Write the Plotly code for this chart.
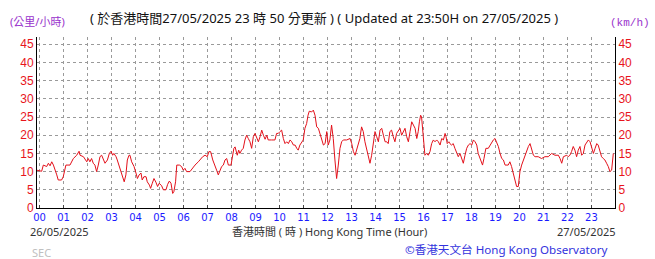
import plotly.graph_objects as go

# ---------------- data ----------------
hours_a = [-0.12, 0.09, 0.16, 0.30, 0.37, 0.44, 0.51, 0.58, 0.72, 0.78,
           0.92, 0.99, 1.10, 1.27, 1.41, 1.55, 1.65, 1.69, 1.83, 1.97,
           2.03, 2.10, 2.17, 2.24, 2.31, 2.38, 2.45, 2.52, 2.59, 2.66,
           2.73, 2.83, 2.91, 2.98, 3.05, 3.10, 3.19, 3.24, 3.33, 3.42,
           3.49, 3.53, 3.60, 3.66, 3.73, 3.77, 3.84, 3.94, 4.02, 4.08,
           4.15, 4.23, 4.28, 4.35, 4.44, 4.49, 4.58, 4.63, 4.70, 4.77,
           4.85, 4.92, 4.99, 5.09, 5.16, 5.27, 5.34, 5.41, 5.48, 5.55,
           5.60, 5.67, 5.72, 5.83, 5.92, 5.99, 6.06, 6.13, 6.27, 6.41,
           6.48, 6.62, 6.72, 6.80, 6.90, 6.99, 7.06, 7.13, 7.22, 7.28,
           7.38, 7.45, 7.52]
speed_a = [10.4, 10.1, 11.8, 11.4, 12.3, 11.6, 12.7, 11.8, 9.1, 7.7,
           7.7, 8.6, 11.8, 11.8, 13.6, 14.5, 15.6, 14.5, 14.1, 12.7,
           13.6, 12.7, 13.6, 12.3, 11.8, 10.0, 11.8, 14.1, 14.5, 13.2,
           12.3, 13.2, 15.0, 15.6, 14.5, 15.0, 14.1, 13.2, 11.4, 9.6,
           8.4, 7.2, 9.1, 13.2, 14.5, 14.5, 12.7, 11.4, 9.6, 8.1,
           9.1, 9.6, 7.7, 8.6, 8.6, 7.2, 6.3, 5.4, 6.8, 8.1,
           7.1, 5.9, 6.8, 6.1, 5.0, 5.0, 6.5, 7.4, 6.8, 4.0,
           4.5, 7.2, 11.8, 11.8, 11.4, 10.4, 10.9, 10.0, 10.0, 11.4,
           11.8, 12.7, 13.6, 14.1, 14.5, 14.1, 15.5, 15.5, 13.2, 12.3,
           10.4, 9.1, 10.4]

hours_b = [7.59, 7.66, 7.73, 7.80, 7.87, 7.98, 8.05, 8.10, 8.15, 8.19,
           8.24, 8.30, 8.35, 8.42, 8.49, 8.56, 8.63, 8.70, 8.77, 8.84,
           8.91, 8.98, 9.05, 9.12, 9.19, 9.26, 9.33, 9.40, 9.47, 9.53,
           9.67, 9.81, 9.88, 9.95, 10.02, 10.09, 10.16, 10.23, 10.30, 10.37,
           10.44, 10.51, 10.58, 10.65, 10.72, 10.78, 10.85, 10.92, 10.99, 11.06,
           11.13, 11.19, 11.24, 11.34, 11.41, 11.48, 11.55, 11.62, 11.69, 11.76,
           11.83, 11.90, 11.97, 12.03, 12.10, 12.17, 12.24, 12.31, 12.38, 12.45,
           12.52, 12.59, 12.66, 12.80, 12.94, 13.01, 13.08, 13.15, 13.22, 13.35,
           13.42, 13.49, 13.56, 13.63, 13.70, 13.77, 13.84, 13.91, 13.98, 14.05,
           14.12, 14.19, 14.26, 14.33, 14.40, 14.47, 14.53, 14.60, 14.67, 14.74,
           14.81, 14.88, 14.95, 15.02, 15.09, 15.16, 15.23, 15.30, 15.37, 15.44]
speed_b = [11.4, 11.8, 13.2, 13.6, 11.8, 11.8, 14.1, 16.4, 16.8, 15.6,
           14.5, 15.9, 15.0, 15.9, 16.4, 18.7, 20.0, 19.1, 18.2, 16.4,
           19.6, 20.5, 19.1, 18.2, 19.6, 21.4, 20.0, 18.9, 20.0, 18.7,
           18.7, 18.7, 20.5, 20.5, 21.0, 21.4, 19.1, 17.7, 18.2, 17.7,
           18.7, 18.2, 17.3, 17.3, 16.4, 15.9, 17.3, 18.2, 18.7, 21.9,
           23.2, 25.5, 26.6, 26.4, 26.9, 25.5, 22.3, 21.9, 20.5, 18.7,
           17.3, 17.7, 21.0, 17.3, 18.7, 22.8, 19.1, 13.2, 8.1, 11.8,
           16.4, 18.2, 18.7, 18.7, 19.1, 17.7, 15.5, 14.5, 16.4, 19.1,
           22.3, 21.0, 18.2, 15.9, 14.5, 12.3, 14.5, 18.2, 21.0, 19.6,
           18.2, 21.4, 21.9, 20.0, 18.2, 18.2, 17.7, 21.0, 21.4, 19.6,
           18.2, 20.5, 21.4, 21.9, 20.0, 21.0, 21.9, 19.6, 18.2, 21.0]

hours_c = [15.51, 15.58, 15.65, 15.72, 15.78, 15.83, 15.88, 15.92, 15.96,
           16.02, 16.06, 16.13, 16.20, 16.27, 16.34, 16.41, 16.48, 16.55, 16.62,
           16.69, 16.76, 16.83, 16.90, 16.94, 16.99,
           17.06, 17.10, 17.17, 17.24, 17.31, 17.38, 17.45, 17.52, 17.59, 17.66,
           17.73, 17.80, 17.87, 17.94,
           18.01, 18.08, 18.15, 18.22, 18.28, 18.35, 18.42, 18.46, 18.52, 18.60,
           18.70, 18.77, 18.84, 18.91, 18.98,
           19.05, 19.12, 19.19, 19.26, 19.33, 19.40, 19.53, 19.60, 19.67, 19.74,
           19.81, 19.88, 19.95,
           20.02, 20.09, 20.16, 20.23, 20.30, 20.37, 20.44, 20.51, 20.58, 20.65,
           20.78, 20.92,
           21.06, 21.20, 21.34, 21.48, 21.62, 21.69, 21.76, 21.83, 21.97,
           22.03, 22.10, 22.17, 22.24, 22.31, 22.38, 22.45, 22.52, 22.59, 22.66,
           22.73, 22.80, 22.87, 22.94,
           23.01, 23.08, 23.15, 23.22, 23.28, 23.35, 23.42, 23.49, 23.56, 23.63,
           23.70, 23.77, 23.84, 23.91]
speed_c = [23.7, 22.8, 21.9, 19.1, 21.0, 23.7, 25.5, 25.0, 21.9,
           16.4, 14.5, 15.0, 14.5, 15.5, 17.7, 18.7, 18.2, 18.7, 18.2,
           17.3, 19.1, 18.7, 20.5, 19.6, 17.7,
           18.2, 17.7, 17.3, 17.7, 16.4, 15.0, 14.1, 15.0, 13.6, 12.3,
           14.5, 16.4, 17.3, 17.7,
           17.3, 18.7, 18.2, 17.3, 15.0, 13.6, 12.3, 11.8, 13.6, 16.4,
           16.4, 17.3, 18.2, 18.7, 19.1,
           18.2, 16.9, 15.0, 13.6, 13.2, 11.8, 11.8, 12.7, 11.4, 9.6,
           7.7, 5.9, 5.9,
           10.0, 11.8, 13.2, 14.5, 15.5, 16.9, 17.7, 16.4, 14.5, 14.1,
           14.1, 13.6,
           14.1, 14.1, 15.0, 14.5, 14.5, 13.6, 12.3, 14.1, 14.5,
           14.1, 14.5, 15.5, 16.9, 15.9, 14.1, 15.9, 16.9, 14.5, 15.0,
           17.3, 18.2, 18.7, 18.2,
           16.9, 15.0, 16.4, 17.7, 17.3, 15.9, 14.1, 13.6, 13.2, 12.3,
           11.4, 10.0, 10.4, 15.0]

hour_ticks = list(range(24))
hour_labels = ["%02d" % h for h in hour_ticks]
speed_ticks = list(range(0, 50, 5))

hours = hours_a + hours_b + hours_c
speeds = speed_a + speed_b + speed_c

# ---------------- figure ----------------
W, H = 655, 259
L, R, T, B = 37, 40, 37, 51
PW, PH = W - L - R, H - T - B


def px(x):
    return (x - L) / PW


def py(y):
    return (H - B - y) / PH


fig = go.Figure()
fig.add_trace(go.Scatter(x=hours, y=speeds, mode="lines",
                         line=dict(color="#e3101a", width=1),
                         hoverinfo="skip", showlegend=False))
fig.add_trace(go.Scatter(x=[None], y=[None], yaxis="y2", showlegend=False,
                         hoverinfo="skip"))

grid = dict(showgrid=True, gridcolor="#9a9a9a", gridwidth=1, griddash="dot")
tick_red = dict(family="Liberation Sans Narrow, Liberation Sans, sans-serif",
                size=12, color="#e8141c")

fig.update_layout(
    width=W, height=H,
    margin=dict(l=L, r=R, t=T, b=B, pad=0),
    paper_bgcolor="white", plot_bgcolor="white",
    xaxis=dict(range=[-0.104, 23.98], tickmode="array", tickvals=hour_ticks,
               ticktext=hour_labels, showline=True, linecolor="black",
               linewidth=1, ticks="inside", ticklen=3, tickcolor="#444",
               tickfont=dict(family="DejaVu Sans", size=10, color="#1a1aff"),
               zeroline=False, **grid),
    yaxis=dict(range=[0, 47], tickmode="array", tickvals=speed_ticks,
               showline=True, linecolor="black", linewidth=1,
               tickfont=tick_red, zeroline=False, ticks="", **grid),
    yaxis2=dict(range=[0, 47], tickmode="array", tickvals=speed_ticks,
                overlaying="y", side="right", showline=True,
                linecolor="black", linewidth=1, tickfont=tick_red,
                showgrid=False, zeroline=False, ticks=""),
)

txt = "Noto Sans, Noto Sans CJK TC, sans-serif"
ann = [
    dict(text="(公里/小時)", x=px(8), y=py(21), xanchor="left",
         font=dict(family=txt, size=11, color="#9933cc")),
    dict(text="( 於香港時間27/05/2025 23 時 50 分更新 ) ( Updated at 23:50H on 27/05/2025 )",
         x=px(88), y=py(18), xanchor="left",
         font=dict(family=txt, size=13, color="#111")),
    dict(text="(km/h)", x=px(608), y=py(23), xanchor="left",
         font=dict(family="Liberation Mono, monospace", size=11, color="#9933cc")),
    dict(text="26/05/2025", x=px(28), y=py(231), xanchor="left",
         font=dict(family=txt, size=11, color="#333")),
    dict(text="香港時間 ( 時 ) Hong Kong Time (Hour)", x=px(329), y=py(231),
         xanchor="center", font=dict(family=txt, size=11, color="#333")),
    dict(text="27/05/2025", x=px(618), y=py(231), xanchor="right",
         font=dict(family=txt, size=11, color="#333")),
    dict(text="©香港天文台 Hong Kong Observatory", x=px(403), y=py(249),
         xanchor="left", font=dict(family=txt, size=11.6, color="#3333dd")),
    dict(text="SEC", x=px(30), y=py(252), xanchor="left",
         font=dict(family=txt, size=11, color="#c0c0c0")),
]
for a in ann:
    a.update(xref="paper", yref="paper", yanchor="middle", showarrow=False)
fig.update_layout(annotations=ann)

fig.write_html("out.html")
